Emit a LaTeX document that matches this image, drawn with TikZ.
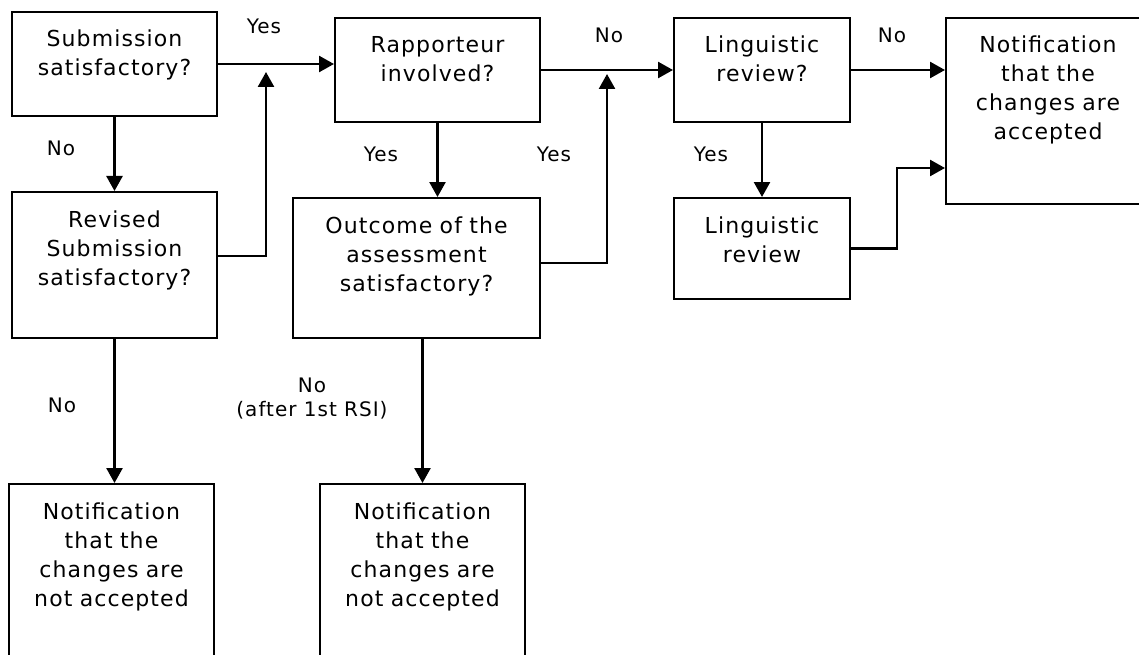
\documentclass[tikz,border=0pt]{standalone}
\usepackage{fontspec}
\setmainfont{DejaVu Sans}[LetterSpace=5]
\usetikzlibrary{arrows.meta}

\tikzset{
  box/.style={draw, line width=2pt, inner sep=0pt, align=center, anchor=north west,
    text height=35pt, font=\fontsize{22}{29}\selectfont},
  lbl/.style={align=center, font=\fontsize{20}{24}\selectfont},
}

\begin{document}
\begin{tikzpicture}[x=1pt, y=-1pt, >={Triangle[length=15pt,width=16pt]}, line width=2.5pt]
\useasboundingbox (0,0) rectangle (1139,655);
\clip (0,0) rectangle (1139,655);

\node[box, text width=205pt, text depth=69pt] (sub) at (11,11) {Submission\\satisfactory?};
\node[box, text width=205pt, text depth=111pt] (rev) at (11,191) {Revised\\Submission\\satisfactory?};
\node[box, text width=205pt, text depth=185pt] (rej1) at (8,483) {Notification\\that the\\changes are\\not accepted};
\node[box, text width=205pt, text depth=69pt] (rap) at (334,17) {Rapporteur\\involved?};
\node[box, text width=247pt, text depth=105pt] (out) at (292,197) {Outcome of the\\assessment\\satisfactory?};
\node[box, text width=205pt, text depth=185pt] (rej2) at (319,483) {Notification\\that the\\changes are\\not accepted};
\node[box, text width=176pt, text depth=69pt] (lingq) at (673,17) {Linguistic\\review?};
\node[box, text width=176pt, text depth=66pt] (ling) at (673,197) {Linguistic\\review};
\node[box, text width=204pt, text depth=151pt] (acc) at (945,17) {Notification\\that the\\changes are\\accepted};

\node[lbl] (l1) at (264,26) {Yes};
\node[lbl] (l2) at (61,148) {No};
\node[lbl] (l3) at (609,35) {No};
\node[lbl] (l4) at (381,154) {Yes};
\node[lbl] (l5) at (554,154) {Yes};
\node[lbl] (l6) at (892,35) {No};
\node[lbl] (l7) at (711,154) {Yes};
\node[lbl] (l8) at (62,405) {No};
\node[lbl] (l9) at (312,399) {No\\(after 1st RSI)};

\coordinate (up1) at (266,72);
\coordinate (up2) at (607,74);
\coordinate (bend) at (897,168);

\draw[->] (sub.east) -- (sub.east -| rap.west);
\draw[->] (sub.south) -- (sub.south |- rev.north);
\draw[->] ([yshift=9pt]rev.east) -| (up1);
\draw[->] (rev.south) -- (rev.south |- rej1.north);
\draw[->] (rap.east) -- (rap.east -| lingq.west);
\draw[->] (rap.south) -- (rap.south |- out.north);
\draw[->] ([yshift=5pt]out.east) -| (up2);
\draw[->] (rej2.north |- out.south) -- (rej2.north);
\draw[->] (lingq.east) -- (lingq.east -| acc.west);
\draw[->] (lingq.south) -- (lingq.south |- ling.north);
\draw[->] (ling.east) -| (bend) -- (bend -| acc.west);
\end{tikzpicture}
\end{document}
